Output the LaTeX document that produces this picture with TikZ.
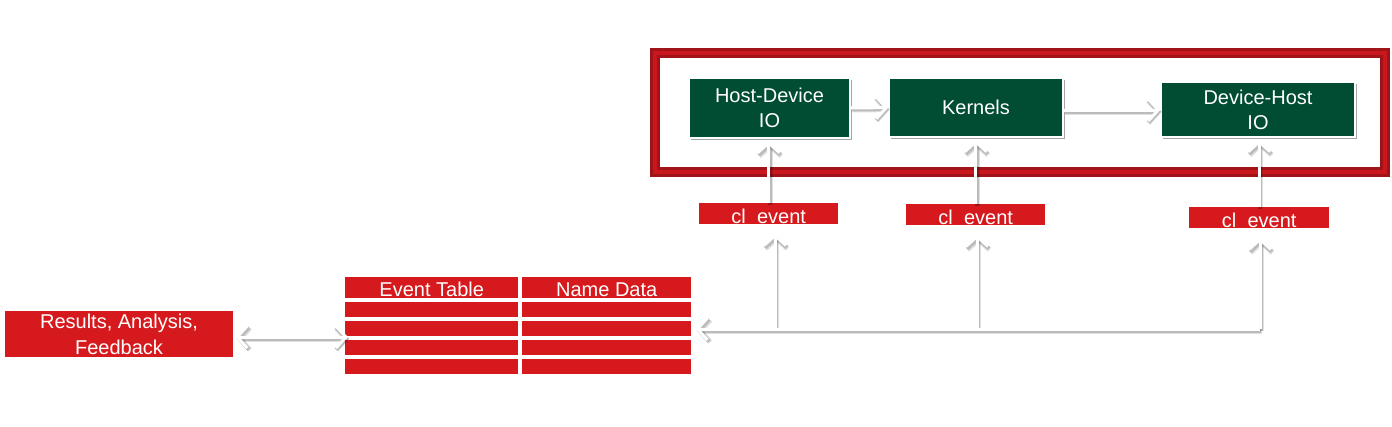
\documentclass[tikz,border=0pt]{standalone}
\usepackage{fontspec}
\setmainfont{Liberation Sans}
\usetikzlibrary{arrows.meta,shadows}
\definecolor{ored}{HTML}{D5191D}
\definecolor{ogreen}{HTML}{004D33}
\definecolor{fdark}{HTML}{A01318}
\definecolor{fmid}{HTML}{C9171D}
\begin{document}
\begin{tikzpicture}[x=1pt,y=-1pt,
  txt/.style={text=white, font=\fontsize{20}{25}\selectfont, inner sep=0pt},
  rbox/.style={fill=ored, draw=none, inner sep=0pt, anchor=north west},
  gbox/.style={fill=ogreen, draw=white, line width=1.5pt, inner sep=0pt, text=white,
    font=\fontsize{20}{25}\selectfont, align=center,
    drop shadow={shadow xshift=1.5pt, shadow yshift=-2pt, opacity=0.35, fill=black}},
  wire/.style={draw=white, line width=3pt,
    preaction={draw=black, opacity=0.12, line width=5pt, transform canvas={xshift=1.5pt,yshift=-2pt}},
    preaction={draw=black, opacity=0.16, line width=4pt, transform canvas={xshift=1pt,yshift=-1.5pt}}},
  tip/.style={-{Straight Barb[length=10pt,width=22pt]}},
  tips/.style={{Straight Barb[length=10pt,width=22pt]}-{Straight Barb[length=10pt,width=22pt]}}
]
\useasboundingbox[fill=white] (0,0) rectangle (1392,426);

% frame
\draw[fdark, line width=10pt] (655,53) rectangle (1385,172);
\draw[fmid, line width=4pt] (655,53) rectangle (1385,172);

% green boxes
\node[gbox, minimum width=161pt, minimum height=60pt] (hd) at (769.5,108) {Host-Device\\IO};
\node[gbox, minimum width=174pt, minimum height=59pt] (kn) at (976,107.5) {Kernels};
\node[gbox, minimum width=194pt, minimum height=55pt] (dh) at (1258,109.5) {Device-Host\\IO};

% cl_event boxes
\node[rbox, minimum width=139pt, minimum height=21pt] (ce1) at (699,203) {};
\node[rbox, minimum width=139pt, minimum height=21pt] (ce2) at (906,204) {};
\node[rbox, minimum width=140pt, minimum height=21pt] (ce3) at (1189,207) {};
\node[txt, anchor=base] at ([yshift=1pt]ce1.south) {cl\_event};
\node[txt, anchor=base] at ([yshift=1pt]ce2.south) {cl\_event};
\node[txt, anchor=base] at ([yshift=1pt]ce3.south) {cl\_event};

% table
\node[rbox, minimum width=173pt, minimum height=21pt] (tL1) at (345,277) {};
\node[rbox, minimum width=169pt, minimum height=21pt] (tR1) at (522,277) {};
\foreach \r/\y in {2/302,3/321,4/340,5/359}{
  \node[rbox, minimum width=173pt, minimum height=15pt] (tL\r) at (345,\y) {};
  \node[rbox, minimum width=169pt, minimum height=15pt] (tR\r) at (522,\y) {};
}
\node[txt, anchor=base] at ([yshift=2pt]tL1.south) {Event Table};
\node[txt, anchor=base] at ([yshift=2pt]tR1.south) {Name Data};

% results
\node[fill=ored, inner sep=0pt, minimum width=228pt, minimum height=46pt, text=white,
  align=center, font=\fontsize{20}{26}\selectfont] (res) at (119,334) {Results, Analysis,\\Feedback};

% connectors
\draw[wire,tip] (hd) -- (kn);
\draw[wire,tip] (kn.east |- 0,110) -- (dh.west |- 0,110);

\draw[wire,tip,shorten >=2pt] (ce1.north) -- (ce1.north |- hd.south);
\draw[wire,tip,shorten >=2pt] (ce2.north) -- (ce2.north |- kn.south);
\draw[wire,tip,shorten >=2pt] (ce3.north) -- (ce3.north |- dh.south);

\coordinate (b1) at (775,329);
\coordinate (b2) at (977,329);
\coordinate (b3) at (1260,329);
\draw[wire,tip,shorten >=9pt] (b1) -- (b1 |- ce1.south);
\draw[wire,tip,shorten >=9pt] (b2) -- (b2 |- ce2.south);
\draw[wire,tip,shorten >=9pt] (b3) -- (b3 |- ce3.south);
\draw[wire,tip,shorten >=4pt] (b3) -- (b3 -| tR3.east);

\draw[wire,tips,shorten <=2pt,shorten >=-3pt] ([yshift=-3pt]res.east) -- ([yshift=-3pt]res.east -| tL3.west);
\end{tikzpicture}
\end{document}
